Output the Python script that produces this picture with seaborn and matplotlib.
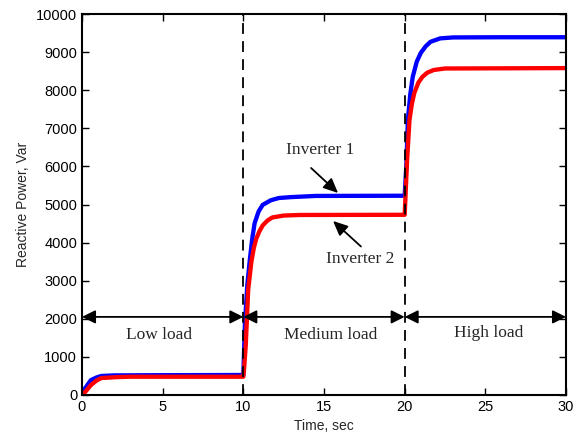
import matplotlib
matplotlib.use("Agg")
import matplotlib.pyplot as plt
import seaborn as sns
import pandas as pd

# ---- data ----
t_inv1 = [0, 0.2, 0.55, 0.9, 1.2, 2.0, 5.0, 10.0, 10.1, 10.25, 10.4, 10.55, 10.7, 10.95, 11.2,
          11.7, 12.2, 13.0, 14.5, 20.0, 20.1, 20.2, 20.35, 20.5, 20.75, 21.0, 21.3, 21.6,
          22.2, 23.0, 26.0, 30.0]
q_inv1 = [100, 180, 390, 460, 500, 515, 520, 525, 1890, 2900, 3540, 4100, 4510, 4820, 4990,
          5110, 5170, 5195, 5225, 5230, 6000, 7220, 7900, 8350, 8750, 8980, 9150, 9270,
          9360, 9385, 9390, 9390]

t_inv2 = [0, 0.2, 0.55, 0.9, 1.2, 2.2, 3.0, 10.0, 10.05, 10.15, 10.3, 10.5, 10.65, 10.8, 11.0,
          11.2, 11.5, 11.8, 12.5, 13.5, 20.0, 20.05, 20.15, 20.3, 20.45, 20.6, 20.85, 21.1,
          21.4, 21.8, 22.5, 30.0]
q_inv2 = [0, 80, 260, 380, 445, 470, 480, 480, 700, 1300, 2760, 3500, 3860, 4100, 4300,
          4450, 4580, 4660, 4710, 4725, 4730, 5200, 6170, 7220, 7650, 7930, 8200, 8350,
          8460, 8530, 8570, 8580]

x_ticks = [0, 5, 10, 15, 20, 25, 30]
y_ticks = [0, 1000, 2000, 3000, 4000, 5000, 6000, 7000, 8000, 9000, 10000]
load_bounds = [0, 10, 20, 30]
load_labels = ["Low load", "Medium load", "High load"]
load_label_x = [4.8, 15.4, 25.2]
load_label_y = [1570, 1570, 1620]
arrow_y = 2050
inv_labels = ["Inverter 1", "Inverter 2"]
inv_text_xy = [(14.75, 6430), (17.23, 3570)]
inv_arrow_from = [(14.2, 5958), (17.29, 3898)]
inv_arrow_to = [(15.87, 5302), (15.56, 4567)]

df1 = pd.DataFrame({"t": t_inv1, "q": q_inv1})
df2 = pd.DataFrame({"t": t_inv2, "q": q_inv2})

sns.set_style("ticks")
plt.rcParams["font.family"] = ["Liberation Sans", "DejaVu Sans"]
serif = ["Liberation Serif", "DejaVu Serif"]

fig = plt.figure(figsize=(5.78, 4.37), dpi=100)
ax = fig.add_axes([82 / 578, 1 - 395 / 437, (566 - 82) / 578, (395 - 14) / 437])

sns.lineplot(data=df1, x="t", y="q", color="#0000ff", lw=3.1, estimator=None, ax=ax)
sns.lineplot(data=df2, x="t", y="q", color="#ff0000", lw=3.1, estimator=None, ax=ax)

for xb in load_bounds[1:-1]:
    ax.axvline(xb, color="black", lw=1.3, ls=(0, (6, 4)), zorder=3)

head = "<|-|>,head_length=0.5,head_width=0.25"
for i in range(3):
    ax.annotate("", xy=(load_bounds[i + 1], arrow_y), xytext=(load_bounds[i], arrow_y),
                arrowprops=dict(arrowstyle=head, color="black", lw=1.3,
                                mutation_scale=16, shrinkA=0, shrinkB=0))
    ax.text(load_label_x[i], load_label_y[i], load_labels[i], ha="center", va="center",
            fontsize=12.5, family=serif)

for i in range(2):
    ax.text(inv_text_xy[i][0], inv_text_xy[i][1], inv_labels[i], ha="center", va="center",
            fontsize=12.5, family=serif)
    ax.annotate("", xy=inv_arrow_to[i], xytext=inv_arrow_from[i],
                arrowprops=dict(arrowstyle="-|>,head_length=0.55,head_width=0.25",
                                color="black", lw=1.3, mutation_scale=16,
                                shrinkA=0, shrinkB=0))

ax.set_xlim(0, 30)
ax.set_ylim(0, 10000)
ax.set_xticks(x_ticks)
ax.set_yticks(y_ticks)
ax.tick_params(direction="in", top=True, right=True, length=5, width=1, labelsize=10.5,
               colors="black")
for s in ax.spines.values():
    s.set_color("black")
    s.set_linewidth(1.5)
ax.set_xlabel("Time, sec", fontsize=10, labelpad=4)
ax.set_ylabel("Reactive Power, Var", fontsize=10, labelpad=4)

fig.savefig("out.png", dpi=100)
